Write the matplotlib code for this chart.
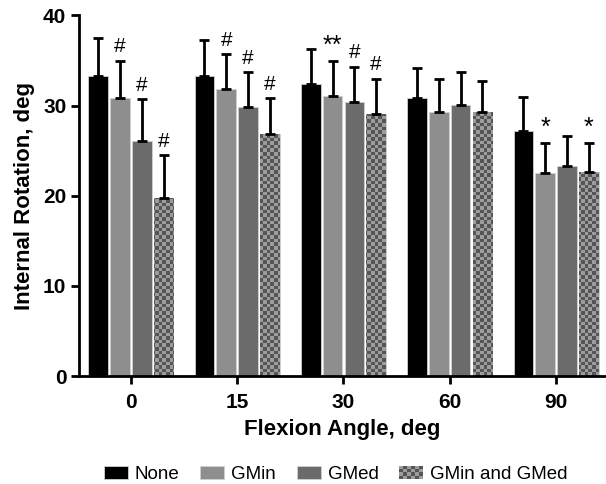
import numpy as np
import matplotlib
matplotlib.use('Agg')
import matplotlib.pyplot as plt
from matplotlib.patches import Rectangle
from matplotlib.legend_handler import HandlerBase

plt.rcParams['font.family'] = 'Liberation Sans'

angles = ['0', '15', '30', '60', '90']
groups = ['None', 'GMin', 'GMed', 'GMin and GMed']
means = {
    'None': [33.3, 33.3, 32.4, 30.9, 27.2],
    'GMin': [30.8, 31.8, 31.1, 29.3, 22.5],
    'GMed': [26.1, 29.8, 30.4, 30.1, 23.3],
    'GMin and GMed': [19.7, 26.9, 29.1, 29.3, 22.6],
}
sds = {
    'None': [4.2, 4.0, 3.9, 3.3, 3.8],
    'GMin': [4.2, 3.9, 3.9, 3.6, 3.4],
    'GMed': [4.6, 3.9, 3.9, 3.6, 3.3],
    'GMin and GMed': [4.8, 3.9, 3.9, 3.4, 3.3],
}
marks = {
    'None': ['', '', '', '', ''],
    'GMin': ['#', '#', '**', '', '*'],
    'GMed': ['#', '#', '#', '', ''],
    'GMin and GMed': ['#', '#', '#', '', '*'],
}
colors = {'None': '#000000', 'GMin': '#8e8e8e', 'GMed': '#6b6b6b', 'GMin and GMed': '#9a9a9a'}
check_dark = '#555555'
check_light = '#9c9c9c'


class CheckerHandler(HandlerBase):
    # small checkerboard swatch for the legend
    def create_artists(self, legend, orig, xd, yd, w, h, fontsize, trans):
        arts = []
        nx, ny = 6, 4
        for i in range(nx):
            for j in range(ny):
                c = check_dark if (i + j) % 2 == 0 else check_light
                arts.append(Rectangle((xd + i * w / nx, yd + j * h / ny), w / nx, h / ny,
                                      facecolor=c, edgecolor='none', transform=trans))
        return arts


fig = plt.figure(figsize=(6.06, 4.84), dpi=100)
ax = fig.add_axes([0.130, 0.223, 0.870, 0.745])
xmin, xmax = -0.49, 4.47

x = np.arange(len(angles))
pitch = 0.205
width = 0.185
handles = []
allbars = []
for k, g in enumerate(groups):
    pos = x + (k - 1.5) * pitch
    bars = ax.bar(pos, means[g], width, color=colors[g], edgecolor='#d0d0d0',
                  linewidth=0.6, zorder=2)
    ax.errorbar(pos, means[g], yerr=[np.zeros(len(x)), sds[g]], fmt='none',
                ecolor='black', elinewidth=2.0, capsize=3.5, capthick=2.0, zorder=3)
    for p, m, s, t in zip(pos, means[g], sds[g], marks[g]):
        if t == '#':
            ax.text(p, m + s + 0.5, t, ha='center', va='bottom', fontsize=15, zorder=4)
        elif t:
            ax.text(p, m + s + 0.3, t, ha='center', va='bottom', fontsize=18, zorder=4)
    handles.append(bars[0])
    allbars.append(bars)

# checkerboard fill for the combined group
cells = np.indices((100, 146)).sum(axis=0) % 2
cmap = matplotlib.colors.ListedColormap([check_dark, check_light])
for b in allbars[3]:
    im = ax.imshow(cells, cmap=cmap, extent=(xmin, xmax, 0, 40), aspect='auto',
                   interpolation='nearest', origin='lower', zorder=2.1)
    im.set_clip_path(b)

ax.set_xlim(xmin, xmax)
ax.set_ylim(0, 40)

ax.spines['top'].set_visible(False)
ax.spines['right'].set_visible(False)
ax.spines['left'].set_linewidth(2)
ax.spines['bottom'].set_linewidth(2)
ax.set_xticks(x)
ax.set_xticklabels(angles)
ax.set_yticks([0, 10, 20, 30, 40])
ax.tick_params(width=2, length=6, labelsize=15)
ax.tick_params(axis='x', pad=6)
ax.tick_params(axis='y', pad=3)
for lab in ax.get_xticklabels() + ax.get_yticklabels():
    lab.set_fontweight('bold')
ax.set_xlabel('Flexion Angle, deg', fontsize=16, fontweight='bold', labelpad=5)
ax.set_ylabel('Internal Rotation, deg', fontsize=16, fontweight='bold', labelpad=6)

ax.legend(handles, groups, loc='center', bbox_to_anchor=(0.554, 0.02),
          bbox_transform=fig.transFigure, ncol=4, frameon=False, fontsize=13.5,
          handlelength=1.28, handleheight=0.7, handletextpad=0.37, columnspacing=1.1,
          handler_map={handles[3]: CheckerHandler()})

fig.savefig('out.png', dpi=100)
